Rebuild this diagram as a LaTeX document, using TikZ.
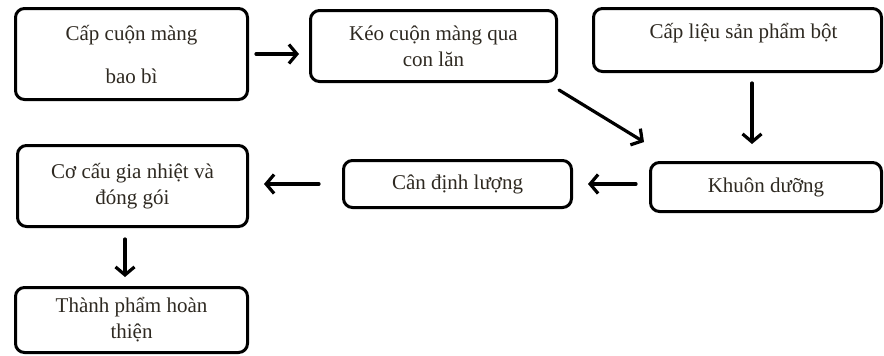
\documentclass[tikz,border=0pt]{standalone}
\usepackage{fontspec}
\setmainfont{Liberation Serif}
\usepackage{tikz}
\usetikzlibrary{arrows.meta}
\usetikzlibrary{calc}
\definecolor{mtext}{rgb}{0.18, 0.16, 0.13}

\begin{document}
\begin{tikzpicture}[x=1pt, y=-1pt,
    box/.style={draw, line width=3pt, rounded corners=9pt, align=center, text=mtext, inner sep=0pt, font=\fontsize{21}{26}\selectfont},
    arr/.style={line width=3.2pt, line cap=round, line join=round, -{Straight Barb[length=8pt, width=19pt]}}]
    \useasboundingbox (0, 0) rectangle (884, 356);

    \node [box, minimum width=232pt, minimum height=91pt] (bobi) at (131.5, 54) {Cấp cuộn màng\\[17pt]bao bì};
    \node [box, minimum width=246pt, minimum height=71pt] (keo) at (433.5, 46) {Kéo cuộn màng qua\\con lăn};
    \node [box, minimum width=288pt, minimum height=63pt, text depth=19pt] (lieu) at (737.5, 40) {\hspace*{12pt}Cấp liệu sản phẩm bột};
    \node [box, minimum width=231pt, minimum height=49pt] (khuon) at (766, 187) {Khuôn dưỡng};
    \node [box, minimum width=228pt, minimum height=47pt] (can) at (457.5, 184) {Cân định lượng};
    \node [box, minimum width=230pt, minimum height=81pt] (cocau) at (132.5, 186) {Cơ cấu gia nhiệt và\\đóng gói};
    \node [box, minimum width=232pt, minimum height=65pt] (thanh) at (131.5, 320) {Thành phẩm hoàn\\thiện};

    \draw [arr, shorten <=7pt, shorten >=10pt] (bobi.east) -- (keo.west |- bobi.east);
    \draw [arr] ($(keo.south east)+(1, 7)$) -- ($(khuon.north west)+(-5, -19)$);
    \draw [arr, shorten <=10pt, shorten >=17pt] ($(lieu.south)+(14.5, 0)$) coordinate (t) -- (t |- khuon.north);
    \draw [arr, shorten <=13pt, shorten >=15pt] (khuon.west |- can.east) -- (can.east);
    \draw [arr, shorten <=23pt, shorten >=15pt] (can.west) -- (cocau.east |- can.west);
    \draw [arr, shorten <=11pt, shorten >=9pt] ($(cocau.south)+(-7.5, 0)$) coordinate (s) -- (s |- thanh.north);
\end{tikzpicture}
\end{document}
